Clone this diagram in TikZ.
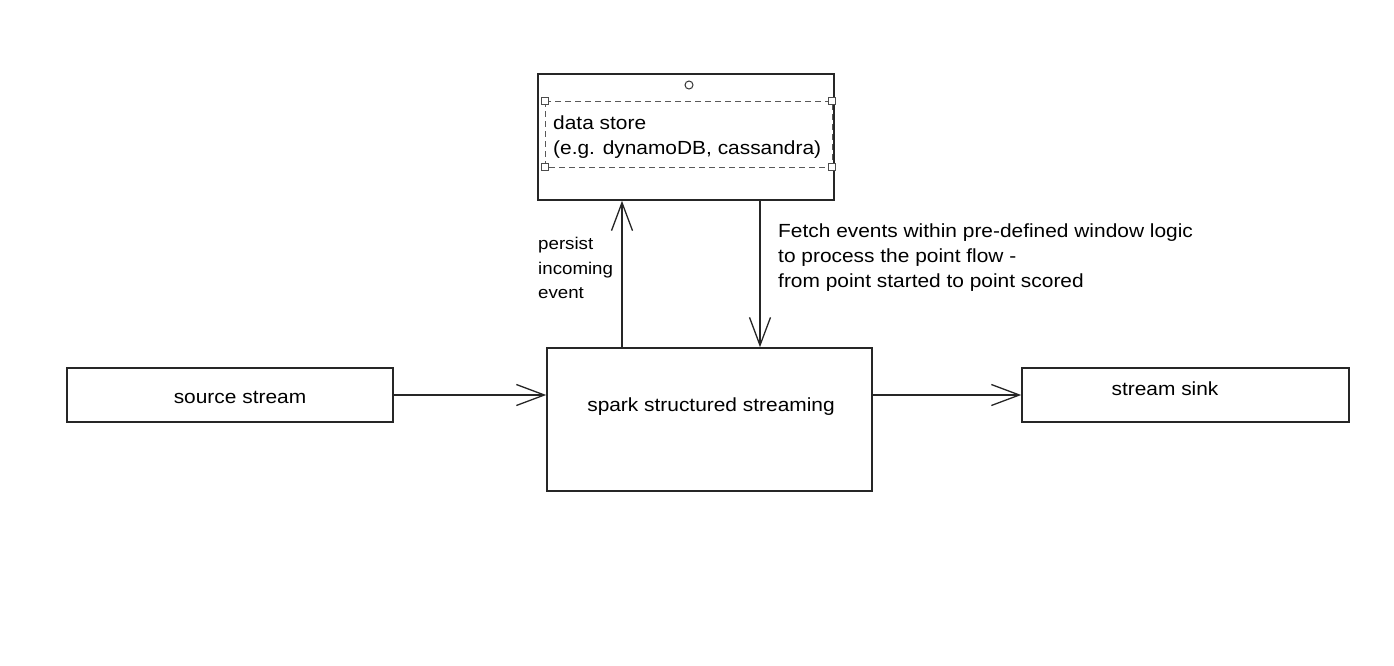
\documentclass[tikz,border=0pt]{standalone}
\usepackage{fontspec}
\setmainfont[FakeStretch=1.1]{Liberation Sans}
\usetikzlibrary{arrows.meta}
\begin{document}
\begin{tikzpicture}[x=1pt,y=-1pt,
  box/.style={draw=black!85,line width=1.6pt,inner sep=0pt,rectangle},
  lbl/.style={font=\fontsize{19}{25}\selectfont,inner sep=0pt,align=left},
  conn/.style={line width=1.5pt,draw=black!85,-{Straight Barb[length=28pt,width=21pt,line width=1.3pt]}},
  handle/.style={draw=black!70,fill=white,line width=1pt,minimum size=7pt,inner sep=0pt,rectangle}
]
\useasboundingbox (0,0) rectangle (1394,665);
% boxes
\node[box,minimum width=326pt,minimum height=54pt] (source) at (230,395) {};
\node[lbl] (sourcetext) at (240,397) {source stream};
\node[box,minimum width=325pt,minimum height=143pt] (spark) at (709.5,419.5) {};
\node[lbl] (sparktext) at (711,407) {spark structured streaming};
\node[box,minimum width=327pt,minimum height=54pt] (sink) at (1185.5,395) {};
\node[lbl] (sinktext) at (1165,389) {stream sink};
\node[box,minimum width=296pt,minimum height=126pt] (store) at (686,137) {};
% selection frame
\draw[dashed,dash pattern=on 6pt off 4pt,draw=black!65,line width=1pt] (545,101) rectangle (832,167);
\node[handle] (h1) at (545,101) {};
\node[handle] (h2) at (832,101) {};
\node[handle] (h3) at (545,167) {};
\node[handle] (h4) at (832,167) {};
\node[draw=black!80,circle,line width=1pt,minimum size=8pt,inner sep=0pt] (hc) at (689,85) {};
\node[lbl,anchor=north west] (storetext) at (553,116) {data store\\(e.g. dynamoDB, cassandra)};
% connectors
\draw[conn] (source.east) -- (spark.west |- source.east);
\draw[conn] (spark.east |- sink.west) -- (sink.west);
\coordinate (upx) at (622,0);
\coordinate (downx) at (760,0);
\draw[conn] (spark.north -| upx) -- (store.south -| upx);
\draw[conn] (store.south -| downx) -- (spark.north -| downx);
% labels
\node[lbl,anchor=north west,font=\fontsize{17}{24.5}\selectfont] (persist) at (538,237) {persist\\incoming\\event};
\node[lbl,anchor=north west] (fetch) at (778,224) {Fetch events within pre-defined window logic\\to process the point flow -\\from point started to point scored};
\end{tikzpicture}
\end{document}
